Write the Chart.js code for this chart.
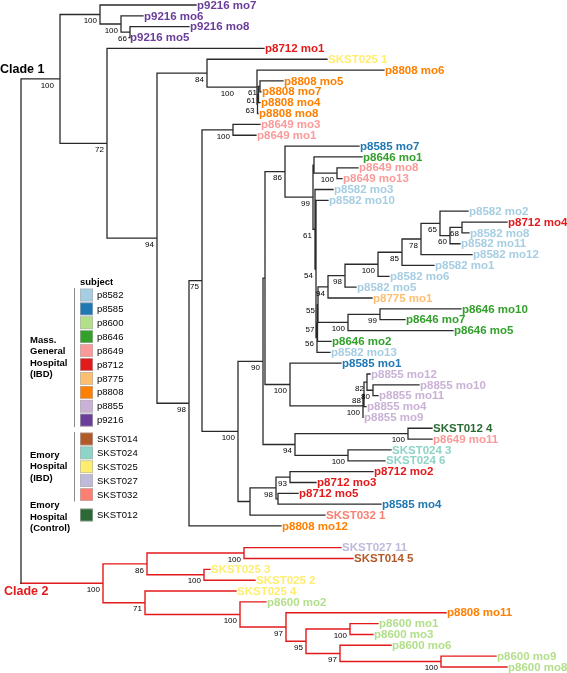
<!DOCTYPE html>
<html>
<head>
<meta charset="utf-8">
<script src="https://cdn.jsdelivr.net/npm/chart.js@4.4.0/dist/chart.umd.min.js"></script>
<style>
  body { margin: 0; background: #fff; }
  #arbol { display: block; }
</style>
</head>
<body>
<canvas id="arbol" width="567" height="673"></canvas>
<script>
// leaves, top to bottom
const leafNames = [
  "p9216 mo7", "p9216 mo6", "p9216 mo8", "p9216 mo5", "p8712 mo1", "SKST025 1",
  "p8808 mo6", "p8808 mo5", "p8808 mo7", "p8808 mo4", "p8808 mo8", "p8649 mo3",
  "p8649 mo1", "p8585 mo7", "p8646 mo1", "p8649 mo8", "p8649 mo13", "p8582 mo3",
  "p8582 mo10", "p8582 mo2", "p8712 mo4", "p8582 mo8", "p8582 mo11", "p8582 mo12",
  "p8582 mo1", "p8582 mo6", "p8582 mo5", "p8775 mo1", "p8646 mo10", "p8646 mo7",
  "p8646 mo5", "p8646 mo2", "p8582 mo13", "p8585 mo1", "p8855 mo12", "p8855 mo10",
  "p8855 mo11", "p8855 mo4", "p8855 mo9", "SKST012 4", "p8649 mo11", "SKST024 3",
  "SKST024 6", "p8712 mo2", "p8712 mo3", "p8712 mo5", "p8585 mo4", "SKST032 1",
  "p8808 mo12",
  "SKST027 11", "SKST014 5", "SKST025 3", "SKST025 2", "SKST025 4", "p8600 mo2",
  "p8808 mo11", "p8600 mo1", "p8600 mo3", "p8600 mo6", "p8600 mo9", "p8600 mo8"
];

// distance from root (tip of each branch)
const leafDepth = [
  196, 143, 189, 129, 264, 327,
  384, 283, 261, 260, 258, 260,
  256, 359, 362, 358, 342, 333,
  328, 468, 507, 469, 460, 472,
  434, 389, 356, 372, 461, 405,
  453, 331, 330, 341, 370, 419,
  378, 366, 363, 432, 432, 391,
  385, 373, 316, 298, 381, 325,
  281,
  341, 353, 210, 255, 236, 266,
  446, 378, 373, 391, 496, 507
];

const blankRowAfter = 48; // empty row between clade 1 and clade 2

// internal nodes: id, depth, bootstrap, children
const internalNodes = [
  ["root", 21, "", ["c1", "c2"]],
  ["c1", 60, "100", ["a1", "a2"]],
  ["a1", 100, "100", ["p9216 mo7", "a3"]],
  ["a3", 121, "100", ["p9216 mo6", "a4"]],
  ["a4", 130, "66", ["p9216 mo8", "p9216 mo5"]],
  ["a2", 107, "72", ["p8712 mo1", "b1"]],
  ["b1", 157, "94", ["b2", "b3"]],
  ["b2", 207, "84", ["SKST025 1", "b4"]],
  ["b4", 257, "100", ["p8808 mo6", "b5"]],
  ["b5", 257.5, "63", ["b6", "p8808 mo8"]],
  ["b6", 258.5, "61", ["b7", "p8808 mo4"]],
  ["b7", 260, "61", ["p8808 mo5", "p8808 mo7"]],
  ["b3", 189, "98", ["d1", "p8808 mo12"]],
  ["d1", 202, "75", ["d2", "d3"]],
  ["d2", 233, "100", ["p8649 mo3", "p8649 mo1"]],
  ["d3", 238, "100", ["e1", "e2"]],
  ["e1", 263, "90", ["e3", "e4"]],
  ["e3", 265, "", ["f1", "f2"]],
  ["f1", 285, "86", ["p8585 mo7", "f3"]],
  ["f3", 313, "99", ["f4", "g1"]],
  ["f4", 314, "", ["p8646 mo1", "f5"]],
  ["f5", 337, "100", ["p8649 mo8", "p8649 mo13"]],
  ["g1", 315, "61", ["p8582 mo3", "g2"]],
  ["g2", 316, "54", ["p8582 mo10", "g3"]],
  ["g3", 317, "56", ["g4", "p8582 mo13"]],
  ["g4", 317.5, "57", ["g5", "p8646 mo2"]],
  ["g5", 318, "55", ["k8", "l1"]],
  ["k8", 328, "94", ["k7", "p8775 mo1"]],
  ["k7", 345, "98", ["k6", "p8582 mo5"]],
  ["k6", 378, "100", ["k5", "p8582 mo6"]],
  ["k5", 402, "85", ["k4", "p8582 mo1"]],
  ["k4", 421, "78", ["k3", "p8582 mo12"]],
  ["k3", 440, "65", ["p8582 mo2", "k2"]],
  ["k2", 450, "60", ["k1", "p8582 mo11"]],
  ["k1", 462, "68", ["p8712 mo4", "p8582 mo8"]],
  ["l1", 348, "100", ["l2", "p8646 mo5"]],
  ["l2", 380, "99", ["p8646 mo10", "p8646 mo7"]],
  ["f2", 290, "100", ["p8585 mo1", "p1"]],
  ["p1", 363, "100", ["q1", "p8855 mo9"]],
  ["q1", 364, "88", ["r1", "p8855 mo4"]],
  ["r1", 367, "82", ["p8855 mo12", "s1"]],
  ["s1", 373, "80", ["p8855 mo10", "p8855 mo11"]],
  ["e4", 295, "94", ["t1", "u1"]],
  ["t1", 408, "100", ["SKST012 4", "p8649 mo11"]],
  ["u1", 348, "100", ["SKST024 3", "SKST024 6"]],
  ["e2", 250, "", ["w1", "SKST032 1"]],
  ["w1", 276, "98", ["v1", "w2"]],
  ["v1", 290, "93", ["p8712 mo2", "p8712 mo3"]],
  ["w2", 278, "", ["p8712 mo5", "p8585 mo4"]],
  ["c2", 103, "100", ["h1", "h2"]],
  ["h1", 147, "86", ["h3", "h4"]],
  ["h3", 244, "100", ["SKST027 11", "SKST014 5"]],
  ["h4", 204, "100", ["SKST025 3", "SKST025 2"]],
  ["h2", 145, "71", ["SKST025 4", "h5"]],
  ["h5", 240, "100", ["p8600 mo2", "h6"]],
  ["h6", 286, "97", ["p8808 mo11", "h7"]],
  ["h7", 306, "95", ["h8", "h9"]],
  ["h8", 350, "100", ["p8600 mo1", "p8600 mo3"]],
  ["h9", 340, "97", ["p8600 mo6", "h10"]],
  ["h10", 441, "100", ["p8600 mo9", "p8600 mo8"]]
];

// bootstrap labels moved left so they don't collide
const labelNudge = { b4: -20, c1: -3 };

const subjectColors = {
  p8582: "#a6cee3", p8585: "#1f78b4", p8600: "#b2df8a", p8646: "#33a02c",
  p8649: "#fb9a99", p8712: "#e31a1c", p8775: "#fdbf6f", p8808: "#ff7f00",
  p8855: "#cab2d6", p9216: "#6a3d9a",
  SKST014: "#b15928", SKST024: "#8dd3c7", SKST025: "#ffed6f", SKST027: "#bebada",
  SKST032: "#fb8072", SKST012: "#2b6a34"
};

const legendGroups = [
  { title: ["Mass.", "General", "Hospital", "(IBD)"],
    subjects: ["p8582", "p8585", "p8600", "p8646", "p8649", "p8712", "p8775", "p8808", "p8855", "p9216"] },
  { title: ["Emory", "Hospital", "(IBD)"],
    subjects: ["SKST014", "SKST024", "SKST025", "SKST027", "SKST032"] },
  { title: ["Emory", "Hospital", "(Control)"],
    subjects: ["SKST012"] }
];

const COR_LINHA = "#2a2a2a";
const COR_CLADE2 = "#e31a1c";

// ---- layout of the tree ----
const pos = {};
leafNames.forEach((nome, i) => {
  pos[nome] = { x: leafDepth[i], y: i + (i > blankRowAfter ? 1 : 0), leaf: true };
});
const porId = {};
internalNodes.forEach((n) => (porId[n[0]] = n));

function posicionar(id) {
  if (pos[id]) return pos[id];
  const [, prof, apoio, filhos] = porId[id];
  const ps = filhos.map(posicionar);
  pos[id] = { x: prof, y: (ps[0].y + ps[ps.length - 1].y) / 2, support: apoio };
  return pos[id];
}
posicionar("root");

const vermelhos = new Set();
function marcar(id) {
  vermelhos.add(id);
  if (porId[id]) porId[id][3].forEach(marcar);
}
marcar("c2");

const linhasPretas = [];
const linhasVermelhas = [];
function seg(arr, x1, y1, x2, y2) {
  arr.push({ x: x1, y: y1 }, { x: x2, y: y2 }, { x: x2, y: null });
}
internalNodes.forEach(([id, , , filhos]) => {
  const p = pos[id];
  filhos.forEach((f) => {
    const c = pos[f];
    seg(vermelhos.has(id) ? linhasVermelhas : linhasPretas, p.x, p.y, p.x, c.y);
    seg(vermelhos.has(f) ? linhasVermelhas : linhasPretas, p.x, c.y, c.x, c.y);
  });
});

// ---- text drawn on top ----
const textos = {
  id: "textos",
  afterDatasetsDraw(chart) {
    const ctx = chart.ctx;
    const xs = chart.scales.x;
    const ys = chart.scales.y;
    ctx.save();

    // bootstrap values
    ctx.font = '8px "Liberation Sans", Arial, sans-serif';
    ctx.fillStyle = "#000";
    ctx.textAlign = "right";
    ctx.textBaseline = "middle";
    internalNodes.forEach(([id, , apoio]) => {
      if (!apoio) return;
      const p = pos[id];
      const dx = labelNudge[id] || 0;
      ctx.fillText(apoio, xs.getPixelForValue(p.x) - 3 + dx, ys.getPixelForValue(p.y) + 6.5);
    });

    // leaf names
    ctx.font = 'bold 11.5px "Liberation Sans", Arial, sans-serif';
    ctx.textAlign = "left";
    leafNames.forEach((nome) => {
      const p = pos[nome];
      ctx.fillStyle = subjectColors[nome.split(" ")[0]];
      ctx.fillText(nome, xs.getPixelForValue(p.x) + 1, ys.getPixelForValue(p.y) + 0.5);
    });

    // clade labels
    ctx.font = 'bold 12.5px "Liberation Sans", Arial, sans-serif';
    ctx.fillStyle = "#000";
    ctx.fillText("Clade 1", 0, 70);
    ctx.fillStyle = COR_CLADE2;
    ctx.fillText("Clade 2", 4, 592);

    // legend
    ctx.fillStyle = "#000";
    ctx.font = 'bold 9.5px "Liberation Sans", Arial, sans-serif';
    ctx.fillText("subject", 80, 282);

    const passo = 13.9;
    let y = 295;
    const inicioGrupo = [295, 439, 515];
    legendGroups.forEach((g, gi) => {
      y = inicioGrupo[gi];
      const topo = y;
      g.subjects.forEach((s) => {
        ctx.fillStyle = subjectColors[s];
        ctx.fillRect(80, y - 6.3, 13, 12.6);
        ctx.strokeStyle = "#b0b0b0";
        ctx.lineWidth = 0.6;
        ctx.strokeRect(80.3, y - 6, 12.4, 12);
        ctx.fillStyle = "#000";
        ctx.font = '9.5px "Liberation Sans", Arial, sans-serif';
        ctx.fillText(s, 97, y + 0.5);
        y += passo;
      });
      const fundo = y - passo;
      if (g.subjects.length > 1) {
        ctx.strokeStyle = "#8a8a8a";
        ctx.lineWidth = 1;
        ctx.beginPath();
        ctx.moveTo(74.5, topo - 7);
        ctx.lineTo(74.5, fundo + 7);
        ctx.stroke();
      }
      // group title, centred on its block
      ctx.fillStyle = "#000";
      ctx.font = 'bold 9.5px "Liberation Sans", Arial, sans-serif';
      const meio = g.subjects.length > 1 ? (topo + fundo) / 2 : topo + 2;
      const alt = 11.5;
      g.title.forEach((linha, li) => {
        ctx.fillText(linha, 30, meio + (li - (g.title.length - 1) / 2) * alt);
      });
    });

    ctx.restore();
  }
};

new Chart(document.getElementById("arbol"), {
  type: "scatter",
  data: {
    datasets: [
      {
        data: linhasPretas,
        showLine: true,
        borderColor: COR_LINHA,
        borderWidth: 1.3,
        pointRadius: 0,
        spanGaps: false,
        borderCapStyle: "square"
      },
      {
        data: linhasVermelhas,
        showLine: true,
        borderColor: COR_CLADE2,
        borderWidth: 1.4,
        pointRadius: 0,
        spanGaps: false,
        borderCapStyle: "square"
      }
    ]
  },
  options: {
    responsive: false,
    animation: false,
    devicePixelRatio: 1,
    layout: { padding: 0 },
    plugins: { legend: { display: false }, tooltip: { enabled: false } },
    scales: {
      x: { type: "linear", min: 0, max: 567, display: false },
      y: { type: "linear", min: -0.4607, max: 61.553, reverse: true, display: false }
    }
  },
  plugins: [textos]
});
</script>
</body>
</html>
